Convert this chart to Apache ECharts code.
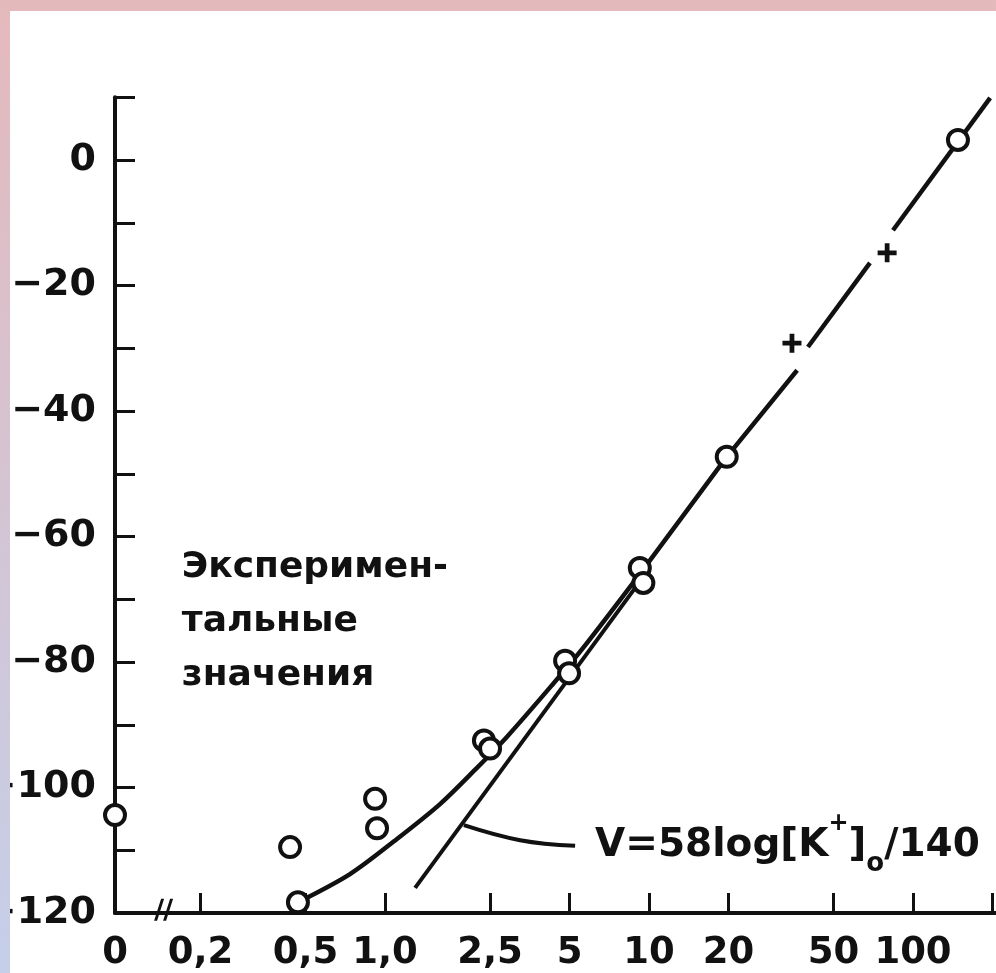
<!DOCTYPE html>
<html>
<head>
<meta charset="utf-8">
<script src="https://cdn.jsdelivr.net/npm/echarts@6/dist/echarts.min.js"></script>
<style>
    html, body { margin: 0; padding: 0; width: 996px; height: 973px; overflow: hidden;
        background: linear-gradient(to bottom, #e4b9bc, #c5cfe9); }
    #main { position: absolute; left: 10px; top: 11px; width: 986px; height: 962px; background: #fff; }
</style>
</head>
<body>
<div id="main"></div>
<script>
    //x axis: [K+]o, log scale, "0" sits on the axis start after the break
    var xTickValues = [0.2, 0.5, 1, 2.5, 5, 10, 20, 50, 100, 200];
    var xTickLabels = ['0,2', '0,5', '1,0', '2,5', '5', '10', '20', '50', '100', ''];
    var yTickValues = [0, -20, -40, -60, -80, -100, -120];
    var yTickLabels = ['0', '\u221220', '\u221240', '\u221260', '\u221280', '\u2212100', '\u2212120'];

    //experimental values (circles) and extra points (crosses), [K, mV]
    var expPoints = [[0, -104.4], [0.437, -109.5], [0.468, -118.3], [0.917, -101.8], [0.933, -106.5],
        [2.37, -92.5], [2.5, -93.8], [4.81, -79.8], [4.98, -81.8], [9.23, -65.0], [9.52, -67.4],
        [19.7, -47.3], [148, 3.2]];
    var crossPoints = [[34.8, -29.2], [79.8, -14.8]];

    //drawn curve through the data, straight above 10 mM, broken near the crosses
    var fitCurve = [[0.468, -118.3], [0.737, -113.8], [1.11, -108.2], [1.62, -102.6], [2.19, -97.2],
        [2.9, -91.9], [4.33, -83.5], [5.62, -77.8], [9.3, -65.8]];
    var fitStraight = [[9.3, -65.8], [19.7, -47.3], [36.4, -33.5]];
    var fitMid = [[40.0, -29.8], [68.7, -16.4]];
    var fitUpper = [[84, -11.2], [196, 9.9]];

    //V = 58 log[K+]o/140 line and its pointer
    var nernstLine = [[1.3, -116], [9.3, -67]];
    var pointerLine = [[1.99, -106], [3.25, -108.4], [5.25, -109.3]];
    var noteAnchor = [[0.17, -73.5]];
    var breakMark = [[0.145, -119.5]];

    var xMin = -1.0227, xMax = 2.3144;
    var FONT = 'DejaVu Sans';
    var INK = '#111';

    function toX(k) {
        return k === 0 ? xMin : Math.log10(k);
    }
    function conv(list) {
        return list.map(function (p) { return [toX(p[0]), p[1]]; });
    }
    function lineSeries(data, extra) {
        var s = {
            type: 'line', data: conv(data), symbol: 'none', silent: true,
            lineStyle: { color: INK, width: 4.5 }, z: 3
        };
        for (var k in extra) s[k] = extra[k];
        return s;
    }

    var labelPos = [xMin].concat(xTickValues.map(Math.log10));
    var labelText = ['0'].concat(xTickLabels);

    var chart = echarts.init(document.getElementById('main'), null, { renderer: 'canvas' });
    chart.setOption({
        animation: false,
        backgroundColor: '#fff',
        grid: { left: 105, right: 0, top: 86.25, bottom: 60, containLabel: false, outerBoundsMode: 'none' },
        xAxis: {
            type: 'value', min: xMin, max: xMax,
            axisLine: { show: true, onZero: false, lineStyle: { color: INK, width: 4 } },
            axisTick: { show: true, inside: true, length: 20, customValues: xTickValues.map(Math.log10),
                lineStyle: { color: INK, width: 3 } },
            axisLabel: {
                show: true, customValues: labelPos, margin: 22,
                fontFamily: FONT, fontSize: 37, fontWeight: 'bold', color: INK,
                formatter: function (v) {
                    var best = 0;
                    for (var i = 1; i < labelPos.length; i++) {
                        if (Math.abs(labelPos[i] - v) < Math.abs(labelPos[best] - v)) best = i;
                    }
                    return labelText[best];
                }
            },
            splitLine: { show: false }
        },
        yAxis: {
            type: 'value', min: -120, max: 10, interval: 10,
            axisLine: { show: true, onZero: false, lineStyle: { color: INK, width: 4 } },
            axisTick: { show: true, inside: true, length: 20, lineStyle: { color: INK, width: 3 } },
            axisLabel: {
                show: true, margin: 19, fontFamily: FONT, fontSize: 38, fontWeight: 'bold', color: INK,
                formatter: function (v) {
                    var i = yTickValues.indexOf(v);
                    return i < 0 ? '' : yTickLabels[i];
                }
            },
            splitLine: { show: false }
        },
        series: [
            lineSeries(fitCurve, { smooth: 0.3 }),
            lineSeries(fitStraight),
            lineSeries(fitMid),
            lineSeries(fitUpper),
            lineSeries(nernstLine, { lineStyle: { color: INK, width: 4 } }),
            lineSeries(pointerLine, {
                smooth: 0.4,
                lineStyle: { color: INK, width: 4 },
                endLabel: {
                    show: true, distance: 20,
                    formatter: '{m|V=58log[K}{sup|+}{m|]}{sub|o}{m|/140}',
                    rich: {
                        m: { fontFamily: FONT, fontSize: 39, fontWeight: 'bold', color: INK },
                        sup: { fontFamily: FONT, fontSize: 24, fontWeight: 'bold', color: INK, padding: [0, 0, 44, 0] },
                        sub: { fontFamily: FONT, fontSize: 26, fontWeight: 'bold', color: INK, padding: [36, 0, 0, 0] }
                    }
                }
            }),
            {
                //experimental circles
                type: 'scatter', data: conv(expPoints), symbol: 'circle', symbolSize: 20, z: 5,
                silent: true, clip: false,
                itemStyle: { color: '#fff', borderColor: INK, borderWidth: 4, opacity: 1 }
            },
            {
                type: 'scatter', data: conv(crossPoints), z: 5, silent: true,
                symbol: 'path://M7.5,0 H12.5 V7.5 H20 V12.5 H12.5 V20 H7.5 V12.5 H0 V7.5 H7.5 Z', symbolSize: 19,
                itemStyle: { color: INK, opacity: 1 }
            },
            {
                //axis break "//"
                type: 'scatter', data: conv(breakMark), z: 6, silent: true, clip: false,
                symbol: 'path://M0,22 L7,0 L10,0 L3,22 Z M9,22 L16,0 L19,0 L12,22 Z', symbolSize: [19, 22],
                itemStyle: { color: INK, opacity: 1 }
            },
            {
                //note text
                type: 'scatter', data: conv(noteAnchor), symbolSize: 0, silent: true, z: 6,
                itemStyle: { opacity: 1 },
                label: {
                    show: true, position: 'right', distance: 0, align: 'left', verticalAlign: 'middle',
                    fontFamily: FONT, fontSize: 36, fontWeight: 'bold', lineHeight: 54, color: INK,
                    formatter: 'Эксперимен-\nтальные\nзначения'
                }
            }
        ]
    });
</script>
</body>
</html>
